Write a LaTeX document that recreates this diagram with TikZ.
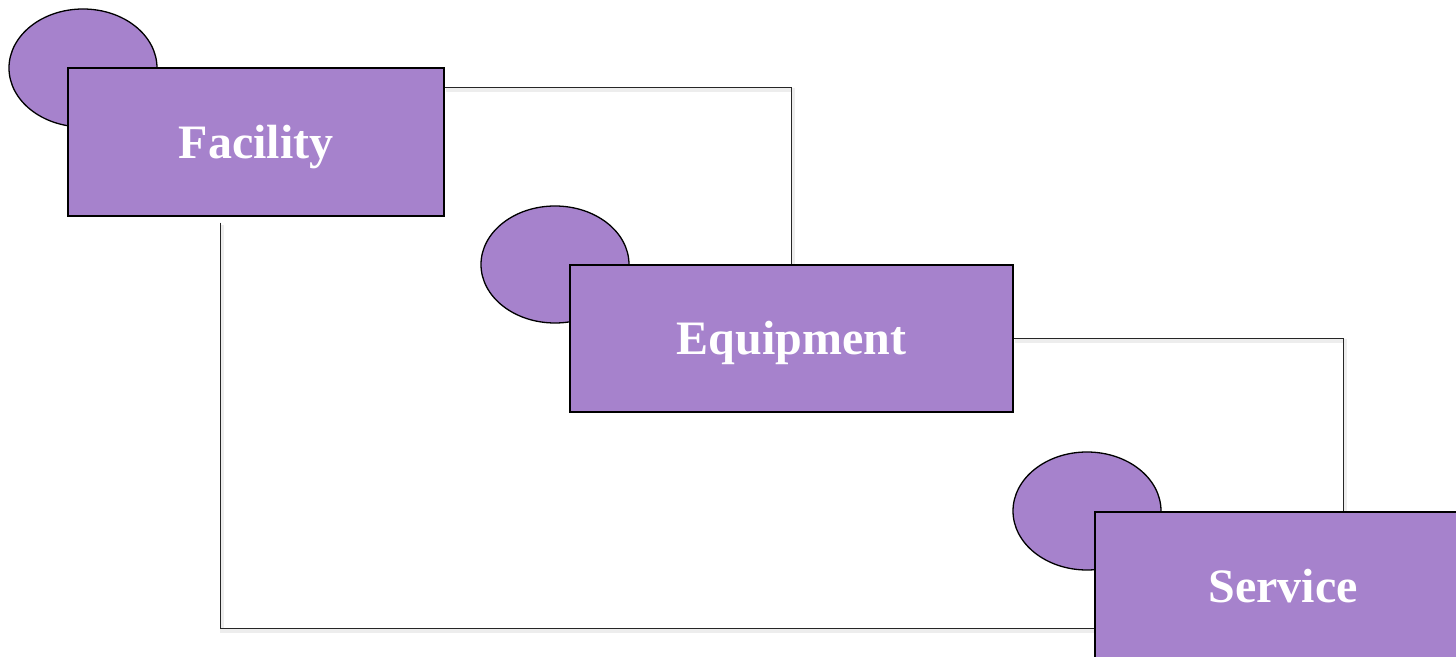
\documentclass[tikz,border=0pt]{standalone}
\usepackage{fontspec}
\setmainfont{Liberation Serif}
\usetikzlibrary{shapes.geometric}
\begin{document}
\begin{tikzpicture}[x=1pt,y=1pt,
  box/.style={draw=black, line width=1.5pt, fill=boxfill, rectangle, inner sep=0pt,
    minimum width=376pt, minimum height=148pt, text=white, text height=33pt, text depth=0pt,
    font=\fontsize{48}{50}\selectfont\bfseries},
  blob/.style={draw=black, line width=1.3pt, fill=boxfill, ellipse, inner sep=0pt,
    minimum width=148pt, minimum height=118pt},
  conn/.style={draw=black!85, line width=1pt},
  connshadow/.style={draw=black!7, line width=4pt}]
\definecolor{boxfill}{HTML}{A682CC}
\useasboundingbox (0,0) rectangle (1456,656);
\clip (0,0) rectangle (1456,656);
\fill[white] (0,0) rectangle (1456,656);
% ellipses
\node[blob] (c1) at (83,588) {};
\node[blob, minimum height=117pt] (c2) at (555,391.5) {};
\node[blob] (c3) at (1087,145) {};
% boxes
\node[box] (fac) at (256,514) {Facility};
\node[box, minimum width=443pt, minimum height=147pt] (equ) at (791.5,317.5) {Equipment};
\node[box] (ser) at (1283,70) {Service};
% connector shadows
\begin{scope}[transform canvas={shift={(1.5pt,-2.5pt)}}]
  \draw[connshadow] ([yshift=-20pt]fac.north east) -| (equ.north);
  \draw[connshadow] (equ.east) -| ([xshift=60pt]ser.north);
  \draw[connshadow] ([xshift=-36pt,yshift=-6pt]fac.south) |- ([yshift=-42pt]ser.west);
\end{scope}
% connectors
\draw[conn] ([yshift=-20pt]fac.north east) -| (equ.north);
\draw[conn] (equ.east) -| ([xshift=60pt]ser.north);
\draw[conn] ([xshift=-36pt,yshift=-6pt]fac.south) |- ([yshift=-42pt]ser.west);
% boxes again on top of the shadows
\node[box] at (fac) {Facility};
\node[box, minimum width=443pt, minimum height=147pt] at (equ) {Equipment};
\node[box] at (ser) {Service};
\end{tikzpicture}
\end{document}
